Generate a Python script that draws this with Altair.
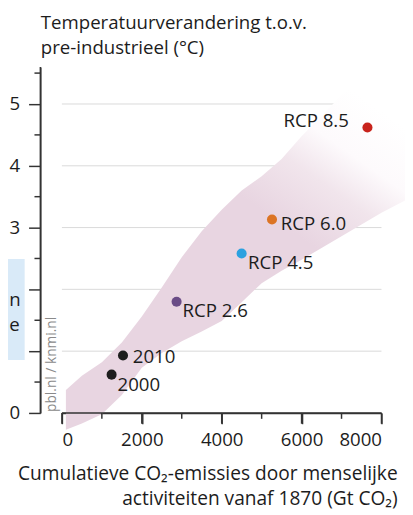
import altair as alt
import pandas as pd

# ---- data ----
band_x = [100, 500, 1000, 1500, 2000, 2500, 3000, 3500, 4000, 4500,
          5000, 5500, 6000, 6500, 7000, 7500, 8000, 8600]
band_upper = [0.37, 0.60, 0.82, 1.14, 1.56, 2.03, 2.52, 2.94, 3.29, 3.60,
              3.83, 4.11, 4.48, 4.81, 5.14, 5.46, 5.78, 6.16]
band_lower = [-0.27, -0.17, -0.02, 0.29, 0.73, 0.97, 1.16, 1.32, 1.49, 1.79,
              2.10, 2.30, 2.48, 2.67, 2.86, 3.05, 3.24, 3.44]

point_labels = ["2000", "2010", "RCP 2.6", "RCP 4.5", "RCP 6.0", "RCP 8.5"]
emissions = [1244, 1529, 2871, 4499, 5259, 7649]
temperature = [0.62, 0.93, 1.80, 2.58, 3.13, 4.62]
point_colors = ["#1e1e1e", "#1e1e1e", "#6a4c86", "#2ba1e0", "#dc7424", "#c8231c"]

x_major = [0, 2000, 4000, 6000, 8000]
x_minor = [1000, 3000, 5000, 7000]
y_major = [0, 1, 2, 3, 4, 5]
y_minor = [0.5, 1.5, 2.5, 3.5, 4.5, 5.5]
y_grid = [1, 2, 3, 4, 5]
x_range = [0, 8000]
y_range = [0, 5.6]

y_title = ["Temperatuurverandering t.o.v.", "pre-industrieel (°C)"]
x_title = ["Cumulatieve CO\u2082-emissies door menselijke",
           "activiteiten vanaf 1870 (Gt CO\u2082)\u00a0"]
credit = "pbl.nl / knmi.nl"
box_words = ["n", "e"]

FONT = "Open Sans"
TXT = "#1c1c1c"
FS = 19
LINE = "#333333"

band_df = pd.DataFrame({"x": band_x, "hi": band_upper, "lo": band_lower})
pts_df = pd.DataFrame({"label": point_labels, "x": emissions, "y": temperature})

xscale = alt.Scale(domain=x_range, nice=False, zero=False)
yscale = alt.Scale(domain=y_range, nice=False, zero=False)

x_axis = alt.Axis(
    values=x_major, format="d", domain=True, ticks=True,
    tickSize=11, tickColor=LINE, tickWidth=1.5, tickOpacity=1,
    domainColor=LINE, domainWidth=1.5, domainOpacity=1,
    labelFont=FONT, labelFontSize=FS, labelColor=TXT,
    labelBaseline="alphabetic", labelPadding=22,
    grid=False,
    title=x_title, titleFont=FONT, titleFontSize=19.5, titleFontWeight="normal",
    titleColor=TXT, titleAlign="right", titleBaseline="alphabetic",
    titleX=342, titleY=68, titleLineHeight=25,
)
y_axis = alt.Axis(
    values=y_major, offset=22, format="d", domain=True, ticks=True,
    labelExpr="(datum.value === 0 || datum.value >= 3) ? datum.label : ''",
    tickSize=12, tickColor=LINE, tickWidth=1.5, tickOpacity=1,
    domainColor=LINE, domainWidth=1.5, domainOpacity=1,
    labelFont=FONT, labelFontSize=FS, labelColor=TXT, labelPadding=9,
    grid=False,
    title=y_title, titleFont=FONT, titleFontSize=FS, titleFontWeight="normal",
    titleColor=TXT, titleAngle=0, titleAlign="left", titleBaseline="alphabetic",
    titleX=0, titleY=-39, titleLineHeight=25,
)

# horizontal grid lines (under the band), through the scales
grid_df = pd.DataFrame({"v": y_grid, "x0": [x_range[0]] * len(y_grid),
                        "x1": [x_range[1]] * len(y_grid)})
grid = alt.Chart(grid_df).mark_rule(color="#d9d9d9", strokeWidth=1).encode(
    y=alt.Y("v:Q", scale=yscale, axis=y_axis),
    x=alt.X("x0:Q", scale=xscale, axis=x_axis),
    x2="x1:Q",
)

pink = "#e8d5e1"
band = alt.Chart(band_df).mark_area(
    color=alt.Gradient(
        gradient="linear",
        stops=[alt.GradientStop(color=pink, offset=0),
               alt.GradientStop(color=pink, offset=0.66),
               alt.GradientStop(color="#f1e5ec", offset=0.79),
               alt.GradientStop(color="#fdfafc", offset=0.88),
               alt.GradientStop(color="#ffffff", offset=1)],
        x1=0, y1=1, x2=0.6, y2=0),
).encode(
    x="x:Q",
    y="lo:Q",
    y2="hi:Q",
)

# axis base lines drawn over the band, through the scales
base_df = pd.DataFrame({"x0": [x_range[0]], "x1": [x_range[1]],
                        "y0": [y_range[0]], "y1": [y_range[1]]})
x_base = alt.Chart(base_df).mark_rule(color=LINE, strokeWidth=1.5, opacity=1).encode(
    x="x0:Q", x2="x1:Q", y="y0:Q")
y_base = alt.Chart(base_df).mark_rule(color=LINE, strokeWidth=1.5, opacity=1).encode(
    y="y0:Q", y2="y1:Q", x=alt.value(-22))

# ticks, through the scales
ytick_df = pd.DataFrame({"v": y_minor})
xtick_df = pd.DataFrame({"v": x_minor})
xmaj_df = pd.DataFrame({"v": x_major})
y_minor_ticks = alt.Chart(ytick_df).mark_rule(color=LINE, strokeWidth=1.5, opacity=1).encode(
    y="v:Q", x=alt.value(-28), x2=alt.value(-22))
x_minor_ticks = alt.Chart(xtick_df).mark_rule(color=LINE, strokeWidth=1.5, opacity=1).encode(
    x="v:Q", y=alt.value(353), y2=alt.value(359))
x_major_ticks = alt.Chart(xmaj_df).mark_rule(color=LINE, strokeWidth=1.5, opacity=1).encode(
    x="v:Q", y=alt.value(353), y2=alt.value(364))

points = alt.Chart(pts_df).mark_circle(size=105, opacity=1).encode(
    x="x:Q", y="y:Q",
    color=alt.Color("label:N", scale=alt.Scale(domain=point_labels, range=point_colors), legend=None),
)

label_style = {
    "2000": dict(align="left", dx=6, dy=17),
    "2010": dict(align="left", dx=10, dy=8),
    "RCP 2.6": dict(align="left", dx=6, dy=16),
    "RCP 4.5": dict(align="left", dx=6.5, dy=16),
    "RCP 6.0": dict(align="left", dx=9, dy=11),
    "RCP 8.5": dict(align="right", dx=-19, dy=0),
}
texts = []
for lab in point_labels:
    st = label_style[lab]
    texts.append(
        alt.Chart(pts_df).transform_filter(alt.datum.label == lab).mark_text(
            font=FONT, fontSize=FS, color=TXT, baseline="alphabetic", **st
        ).encode(x="x:Q", y="y:Q", text="label:N")
    )

one = pd.DataFrame({"k": [0]})
box = alt.Chart(one).mark_rect(color="#d9eaf8").encode(
    x=alt.value(-63), x2=alt.value(-38), y=alt.value(196), y2=alt.value(299)
)
box_t1 = alt.Chart(one).mark_text(font=FONT, fontSize=FS, color=TXT, align="right",
                                  baseline="alphabetic", text=box_words[0]).encode(
    x=alt.value(-42), y=alt.value(244))
box_t2 = alt.Chart(one).mark_text(font=FONT, fontSize=FS, color=TXT, align="right",
                                  baseline="alphabetic", text=box_words[1]).encode(
    x=alt.value(-43), y=alt.value(269))
credit_t = alt.Chart(one).mark_text(font=FONT, fontSize=14, color="#8a8a8a", align="left",
                                    baseline="alphabetic", angle=270, text=credit).encode(
    x=alt.value(-6.5), y=alt.value(352))

chart = alt.layer(grid, band, x_base, y_base, y_minor_ticks, x_minor_ticks, x_major_ticks,
                  points, *texts, box, box_t1, box_t2, credit_t).properties(
    width=326, height=353,
    autosize=alt.AutoSizeParams(type="none"),
    padding={"left": 55, "top": 55, "right": 24, "bottom": 99},
).configure_view(strokeWidth=0)

chart.save("out.html", embed_options={"renderer": "svg", "actions": False})
